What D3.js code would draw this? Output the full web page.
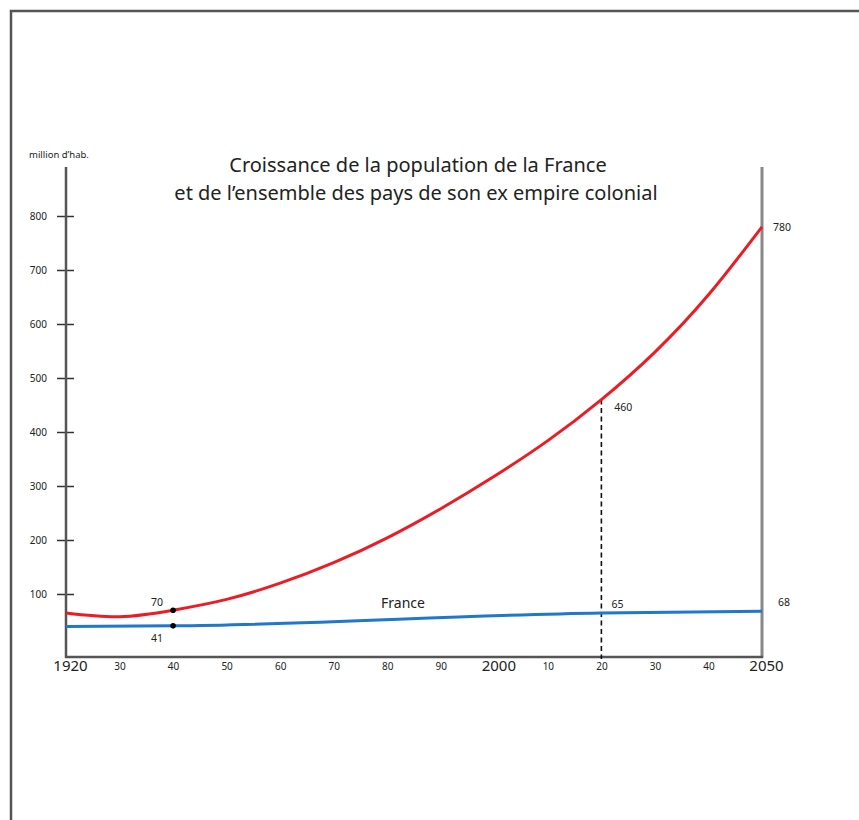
<!DOCTYPE html>
<html>
<head>
<meta charset="utf-8">
<script src="https://cdn.jsdelivr.net/npm/d3@7"></script>
<style>
  html, body { margin: 0; padding: 0; background: #fff; }
  svg { display: block; }
  text { font-family: "Noto Sans", "Open Sans", sans-serif; fill: #222; }
</style>
</head>
<body>
<svg id="chart" width="859" height="820"></svg>
<script>
// Population (millions) — ex colonial empire, by decade
const years = [1920, 1930, 1940, 1950, 1960, 1970, 1980, 1990, 2000, 2010, 2020, 2030, 2040, 2050];
const empire = [65, 58, 70, 90, 120, 158, 204, 258, 318, 384, 460, 548, 654, 780];

// Population (millions) — France
const franceYears = [1920, 1940, 2020, 2050];
const france = [40, 41, 65, 68];

// Axis ticks
const yTicks = [100, 200, 300, 400, 500, 600, 700, 800];
const xTicks = [1920, 1930, 1940, 1950, 1960, 1970, 1980, 1990, 2000, 2010, 2020, 2030, 2040, 2050];
const majorYears = [1920, 2000, 2050];
const xTickLabel = y => majorYears.includes(y) ? String(y) : String(y % 100).padStart(2, "0");

// Annotated values
const empireNotes = [
  { year: 1940, value: 70, dx: -16, dy: -8 },
  { year: 2020, value: 460, dx: 22, dy: 8 },
  { year: 2050, value: 780, dx: 20, dy: 1 }
];
const franceNotes = [
  { year: 1940, value: 41, dx: -16, dy: 12 },
  { year: 2020, value: 65, dx: 16, dy: -9 },
  { year: 2050, value: 68, dx: 22, dy: -9 }
];

const svg = d3.select("#chart");

// Outer frame (top and left edges)
svg.append("path")
  .attr("d", "M11,820 V11 H859")
  .attr("fill", "none")
  .attr("stroke", "#555")
  .attr("stroke-width", 2.5);

const x = d3.scaleLinear().domain([1920, 2050]).range([66, 762]);
const y = d3.scaleLinear().domain([0, 800]).range([648, 216]);
const axisY = 657;

// Title
const title = svg.append("text")
  .attr("text-anchor", "middle")
  .attr("font-size", 20)
  .attr("fill", "#222");
title.append("tspan").attr("x", 418).attr("y", 172).text("Croissance de la population de la France");
title.append("tspan").attr("x", 416).attr("y", 200).text("et de l\u2019ensemble des pays de son ex empire colonial");

// Unit label
svg.append("text")
  .attr("x", 29).attr("y", 158)
  .attr("font-size", 9.5)
  .text("million d\u2019hab.");

// Vertical axis with ticks crossing the line
const yAxis = d3.axisLeft(y).tickValues(yTicks).tickSize(0).tickPadding(0);
const yg = svg.append("g").attr("transform", "translate(66,0)").call(yAxis);
yg.select(".domain").remove();
yg.selectAll(".tick text")
  .attr("x", -19)
  .attr("font-size", 10)
  .attr("font-family", "\"Noto Sans\", sans-serif")
  .attr("fill", "#222");
yg.selectAll(".tick").append("line")
  .attr("x1", -9).attr("x2", 8)
  .attr("stroke", "#333").attr("stroke-width", 1.5);

svg.append("line")
  .attr("x1", 66).attr("x2", 66).attr("y1", 167).attr("y2", axisY + 1)
  .attr("stroke", "#555").attr("stroke-width", 2.5);

// Right boundary line at 2050
svg.append("line")
  .attr("x1", x(2050)).attr("x2", x(2050)).attr("y1", 167).attr("y2", axisY + 1)
  .attr("stroke", "#888").attr("stroke-width", 3);

// Horizontal axis
const xAxis = d3.axisBottom(x).tickValues(xTicks).tickSize(0).tickPadding(0).tickFormat(xTickLabel);
const xg = svg.append("g").attr("transform", `translate(0,${axisY})`).call(xAxis);
xg.select(".domain").remove();
xg.selectAll(".tick text")
  .attr("font-family", "\"Noto Sans\", sans-serif")
  .attr("fill", "#222")
  .attr("y", d => majorYears.includes(d) ? 3 : 6)
  .attr("dx", d => majorYears.includes(d) ? 4 : 0)
  .attr("font-size", d => majorYears.includes(d) ? 15 : 10);

svg.append("line")
  .attr("x1", 65).attr("x2", 763).attr("y1", axisY).attr("y2", axisY)
  .attr("stroke", "#555").attr("stroke-width", 2.5);

// Dashed reference at 2020
svg.append("line")
  .attr("x1", x(2020)).attr("x2", x(2020))
  .attr("y1", y(460)).attr("y2", axisY + 2)
  .attr("stroke", "#111").attr("stroke-width", 1.6)
  .attr("stroke-dasharray", "5,3.5");

// Series lines
const empireData = years.map((yr, i) => ({ year: yr, value: empire[i] }));
const franceData = franceYears.map((yr, i) => ({ year: yr, value: france[i] }));

const smooth = d3.line()
  .x(d => x(d.year))
  .y(d => y(d.value))
  .curve(d3.curveNatural);

const straight = d3.line()
  .x(d => x(d.year))
  .y(d => y(d.value))
  .curve(d3.curveMonotoneX);

svg.append("path")
  .datum(franceData)
  .attr("d", straight)
  .attr("fill", "none")
  .attr("stroke", "#1f78cc")
  .attr("stroke-width", 3);

svg.append("path")
  .datum(empireData)
  .attr("d", smooth)
  .attr("fill", "none")
  .attr("stroke", "#ec1c24")
  .attr("stroke-width", 3);

// Markers at 1940
svg.selectAll("circle.mark")
  .data([{ year: 1940, value: 70 }, { year: 1940, value: 41 }])
  .join("circle")
  .attr("class", "mark")
  .attr("cx", d => x(d.year))
  .attr("cy", d => y(d.value))
  .attr("r", 2.8)
  .attr("fill", "#000");

// Value labels
const notes = empireNotes.concat(franceNotes);
svg.selectAll("text.note")
  .data(notes)
  .join("text")
  .attr("class", "note")
  .attr("x", d => x(d.year) + d.dx)
  .attr("y", d => y(d.value) + d.dy)
  .attr("dy", "0.35em")
  .attr("text-anchor", "middle")
  .attr("font-size", 10.5)
  .attr("fill", "#222")
  .text(d => d.value);

// Series name
svg.append("text")
  .attr("x", 403).attr("y", 608)
  .attr("text-anchor", "middle")
  .attr("font-size", 14)
  .attr("fill", "#222")
  .text("France");
</script>
</body>
</html>
